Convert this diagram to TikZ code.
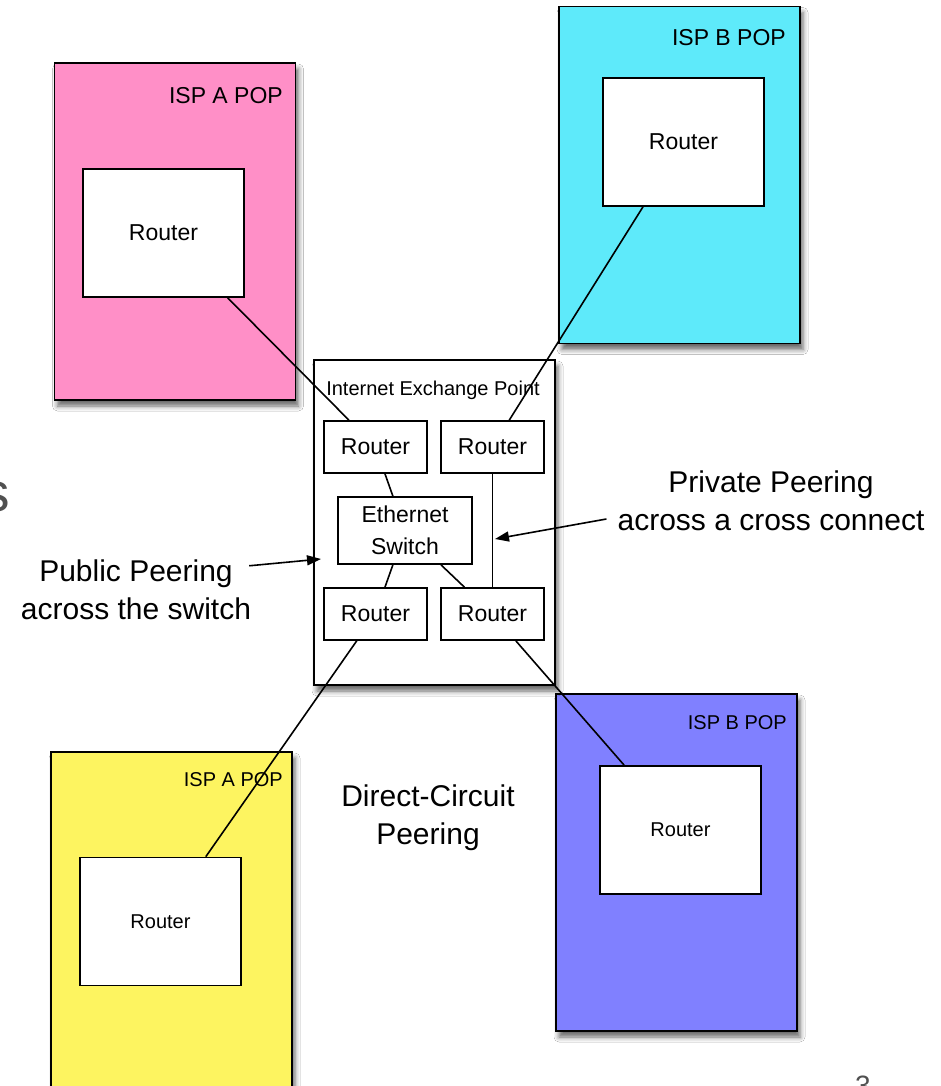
\documentclass[tikz,border=0pt]{standalone}
\usepackage{fontspec}
\setmainfont{Liberation Sans}
\usepackage{xcolor}
\usepackage{tikz}
\usetikzlibrary{arrows.meta,shadows.blur}
\definecolor{popPink}{RGB}{255,143,199}
\definecolor{popCyan}{RGB}{94,234,250}
\definecolor{popYellow}{RGB}{253,244,96}
\definecolor{popBlue}{RGB}{128,128,255}
\definecolor{slideGray}{RGB}{80,80,80}
\newcommand{\fsz}[2]{\fontsize{#1}{#2}\selectfont}

\begin{document}
\begin{tikzpicture}[x=1pt,y=-1pt,
      shadowed/.style={blur shadow={shadow xshift=3pt,shadow yshift=-6pt,
        shadow blur radius=5pt,shadow opacity=60}},
      pop/.style={draw, line width=1.9pt, inner sep=0pt, shadowed,
        minimum width=241pt, minimum height=337pt},
      poptitle/.style={anchor=base east, inner sep=0pt},
      router/.style={draw, fill=white, line width=1.7pt, inner sep=0pt,
        minimum width=161pt, minimum height=128pt},
      ixrouter/.style={draw, fill=white, line width=1.7pt, inner sep=0pt,
        minimum width=103pt, minimum height=52pt, font=\fsz{23}{28}},
      biglbl/.style={align=center, inner sep=0pt, font=\fsz{30}{38}},
      link/.style={line width=1.6pt},
      peerarrow/.style={line width=1.6pt, -{Triangle[length=14pt,width=10pt]}}
      ]
      \fill[white] (0,0) rectangle (940,1086);
      \useasboundingbox (0,0) rectangle (940,1086);

      % the four POPs
      \node[pop, fill=popPink] (popA1) at (175,231.5) {};
      \node[pop, fill=popCyan] (popB1) at (679.5,175) {};
      \node[pop, fill=popYellow] (popA2) at (171.5,920.5) {};
      \node[pop, fill=popBlue] (popB2) at (676.5,862.5) {};
      \node[poptitle, font=\fsz{23}{28}] (popA1t) at (283,104) {ISP A POP};
      \node[poptitle, font=\fsz{23}{28}] (popB1t) at (786,45.5) {ISP B POP};
      \node[poptitle, font=\fsz{20}{24}] (popA2t) at (283,786) {ISP A POP};
      \node[poptitle, font=\fsz{20}{24}] (popB2t) at (787,729) {ISP B POP};
      \node[router, font=\fsz{23}{28}] (rA1) at (163.5,233) {Router};
      \node[router, font=\fsz{23}{28}] (rB1) at (683.5,142) {Router};
      \node[router, font=\fsz{20}{24}] (rA2) at (160.5,921.5) {Router};
      \node[router, font=\fsz{20}{24}] (rB2) at (680.5,830) {Router};

      % exchange point
      \node[draw, fill=white, line width=1.9pt, inner sep=0pt, shadowed,
        minimum width=241pt, minimum height=325pt] (ixp) at (434.5,522.5) {};
      \node[anchor=base, inner sep=0pt, font=\fsz{20}{24}] (ixpt) at (433,395) {Internet Exchange Point};
      \node[ixrouter] (ixA1) at (375.5,447) {Router};
      \node[ixrouter] (ixB1) at (492.5,447) {Router};
      \node[ixrouter] (ixA2) at (375.5,614) {Router};
      \node[ixrouter] (ixB2) at (492.5,614) {Router};
      \node[draw, fill=white, line width=1.7pt, inner sep=0pt, align=center,
        minimum width=134pt, minimum height=67pt, font=\fsz{23}{32}] (ethsw) at (405,530.5) {Ethernet\\Switch};

      % links
      \draw[link] (rA1) -- (ixA1);
      \draw[link] (rB1) -- (ixB1);
      \draw[link] (ixA1) -- (ethsw);
      \draw[link] (ethsw) -- (ixA2);
      \draw[link] (ethsw) -- (ixB2);
      \draw[link] (ixB1) -- (ixB2);
      \draw[link] (ixA2) -- (rA2);
      \draw[link] (ixB2) -- (rB2);

      % labels
      \node[biglbl] (pubpeer) at (136,590) {Public Peering\\across the switch};
      \node[biglbl] (prvpeer) at (771,501) {Private Peering\\across a cross connect};
      \node[biglbl] (dcpeer) at (428,818) {Direct-Circuit\\Peering};
      \coordinate (pubtip) at (321,559);
      \coordinate (prvtip) at (495,539);
      \draw[peerarrow] ([xshift=-2pt,yshift=-6pt]pubpeer.north east) -- (pubtip);
      \draw[peerarrow] ([xshift=-11pt,yshift=-18pt]prvpeer.west) -- (prvtip);

      % cut-off slide text
      \node[anchor=base east, inner sep=0pt, text=slideGray, font=\fsz{55}{60}] (cutS) at (10,511) {s};
      \node[anchor=north, inner sep=0pt, text=slideGray, font=\fsz{28}{30}] (pageno) at (863,1076) {3};
    \end{tikzpicture}
\end{document}
